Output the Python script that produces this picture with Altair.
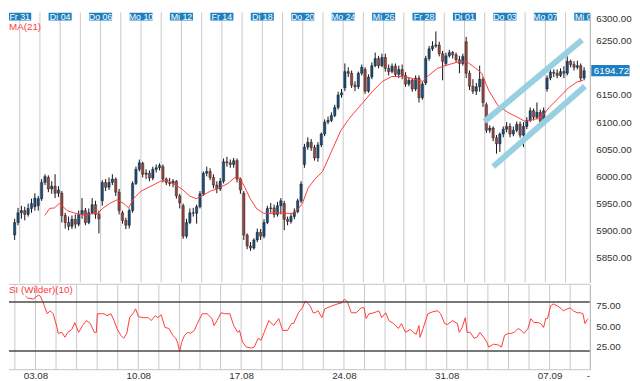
import altair as alt
import pandas as pd

FONT = "Liberation Sans"
UP, DOWN = "#1b4c7a", "#9a4540"
RED = "#ff3a3a"
BLUE = "#1f7fc0"
CHANNEL = "#98d0e1"
GRID = "#c9c9c9"

# ---------------- labels ----------------
top_day_labels = ["Fr 31", "Di 04", "Do 06", "Mo 10", "Mi 12", "Fr 14", "Di 18", "Do 20",
                  "Mo 24", "Mi 26", "Fr 28", "Di 01", "Do 03", "Mo 07", "Mi 09"]
top_day_pos = [-1, 1, 3, 5, 7, 9, 11, 13, 15, 17, 19, 21, 23, 25, 27]
bottom_labels = ["03.08", "10.08", "17.08", "24.08", "31.08", "07.09", "-"]
bottom_pos = [0, 5, 10, 15, 20, 25, 26.86]
grid_days = list(range(-1, 27))
price_ticks = [5850, 5900, 5950, 6000, 6050, 6100, 6150, 6250, 6300]
rsi_ticks = [25, 50, 75]
rsi_levels = [80, 20]

# ---------------- hourly-ish candles (6 per trading day) ----------------
opens = [
    5892, 5915,
    5933, 5937, 5930, 5941, 5944, 5946,
    5959, 5989, 5998, 5977, 5982, 5969,
    5969, 5928, 5915, 5908, 5921, 5912,
    5930, 5937, 5915, 5933, 5948, 5930,
    5955, 5989, 5980, 5989, 5995, 5971,
    5933, 5919, 5910, 5937, 5987, 6013,
    6024, 6004, 6006, 5997, 6013, 6016,
    6018, 5995, 5989, 5987, 5991, 5964,
    5946, 5890, 5915, 5933, 5932, 5944,
    5968, 6006, 6009, 5998, 5984, 5977,
    5991, 6027, 6025, 6022, 6029, 5995,
    5969, 5892, 5872, 5868, 5883, 5897,
    5890, 5915, 5941, 5942, 5930, 5946,
    5950, 5921, 5917, 5926, 5935, 5955,
    6022, 6054, 6063, 6053, 6034, 6058,
    6078, 6100, 6103, 6112, 6127, 6150,
    6163, 6193, 6190, 6168, 6165, 6190,
    6197, 6157, 6183, 6204, 6217, 6204,
    6219, 6199, 6193, 6203, 6188, 6197,
    6186, 6170, 6177, 6161, 6181, 6145,
    6172, 6217, 6235, 6240, 6242, 6226,
    6208, 6222, 6228, 6224, 6215, 6208,
    6248, 6190, 6166, 6157, 6165, 6179,
    6132, 6085, 6089, 6071, 6060, 6078,
    6087, 6092, 6078, 6085, 6096, 6076,
    6092, 6103, 6121, 6109, 6118, 6101,
    6161, 6181, 6192, 6190, 6186, 6193,
    6190, 6212, 6206, 6201, 6204, 6181,
]
highs = [
    5922, 5942,
    5946, 5944, 5950, 5959, 5969, 5964,
    5995, 6004, 6002, 5991, 6004, 5982,
    5973, 5933, 5926, 5928, 5930, 5937,
    5960, 5942, 5941, 5960, 5955, 5937,
    5993, 5995, 5998, 6004, 5998, 5977,
    5937, 5924, 5941, 5991, 6018, 6031,
    6027, 6013, 6011, 6018, 6022, 6024,
    6022, 5998, 5997, 5995, 5993, 5968,
    5950, 5922, 5941, 5942, 5948, 5973,
    6009, 6018, 6015, 6004, 5991, 5997,
    6033, 6036, 6031, 6034, 6033, 5998,
    5973, 5895, 5879, 5886, 5904, 5903,
    5921, 5946, 5951, 5948, 5953, 5960,
    5955, 5926, 5932, 5941, 5959, 5991,
    6060, 6072, 6069, 6058, 6063, 6081,
    6105, 6110, 6118, 6132, 6156, 6161,
    6208, 6201, 6195, 6175, 6193, 6206,
    6201, 6188, 6210, 6228, 6222, 6226,
    6226, 6206, 6208, 6208, 6204, 6206,
    6192, 6183, 6181, 6186, 6186, 6175,
    6222, 6240, 6249, 6267, 6248, 6231,
    6228, 6233, 6231, 6228, 6222, 6226,
    6257, 6195, 6179, 6172, 6204, 6183,
    6136, 6094, 6092, 6076, 6081, 6092,
    6100, 6098, 6092, 6101, 6101, 6100,
    6109, 6127, 6125, 6136, 6123, 6127,
    6186, 6197, 6197, 6197, 6199, 6203,
    6221, 6215, 6212, 6213, 6208, 6201,
]
lows = [
    5883, 5910,
    5922, 5919, 5926, 5933, 5937, 5937,
    5955, 5984, 5971, 5968, 5960, 5962,
    5915, 5904, 5901, 5903, 5904, 5908,
    5922, 5910, 5912, 5930, 5922, 5895,
    5946, 5973, 5975, 5984, 5964, 5930,
    5913, 5903, 5904, 5933, 5984, 6009,
    5998, 5995, 5991, 5993, 6007, 6011,
    5989, 5984, 5982, 5980, 5959, 5941,
    5885, 5886, 5912, 5926, 5913, 5941,
    5964, 6000, 5993, 5978, 5969, 5973,
    5987, 6018, 6016, 6016, 5989, 5968,
    5883, 5866, 5863, 5865, 5879, 5883,
    5886, 5912, 5933, 5924, 5926, 5930,
    5901, 5910, 5913, 5921, 5932, 5951,
    6016, 6049, 6047, 6029, 6027, 6054,
    6074, 6096, 6100, 6109, 6123, 6145,
    6157, 6183, 6163, 6157, 6161, 6186,
    6152, 6154, 6179, 6201, 6199, 6201,
    6193, 6186, 6190, 6183, 6181, 6179,
    6165, 6166, 6156, 6157, 6136, 6141,
    6168, 6213, 6231, 6237, 6221, 6177,
    6203, 6219, 6217, 6210, 6190, 6204,
    6181, 6159, 6152, 6150, 6156, 6128,
    6080, 6080, 6065, 6042, 6045, 6072,
    6081, 6072, 6074, 6081, 6071, 6054,
    6087, 6100, 6103, 6105, 6098, 6098,
    6156, 6177, 6183, 6181, 6183, 6181,
    6186, 6201, 6195, 6197, 6175, 6177,
]
closes = [
    5915, 5933,
    5937, 5930, 5941, 5950, 5960, 5959,
    5989, 6000, 5977, 5982, 5969, 5975,
    5928, 5915, 5908, 5921, 5912, 5930,
    5937, 5915, 5933, 5948, 5930, 5922,
    5989, 5980, 5989, 5995, 5971, 5937,
    5919, 5910, 5937, 5987, 6013, 6025,
    6004, 6006, 5997, 6013, 6016, 6020,
    5995, 5989, 5987, 5991, 5964, 5951,
    5890, 5915, 5933, 5932, 5944, 5968,
    6006, 6009, 5998, 5984, 5977, 5991,
    6027, 6025, 6022, 6029, 5995, 5975,
    5892, 5872, 5868, 5883, 5897, 5890,
    5915, 5941, 5942, 5930, 5946, 5955,
    5921, 5917, 5926, 5935, 5955, 5986,
    6054, 6063, 6053, 6034, 6058, 6078,
    6100, 6103, 6112, 6127, 6150, 6154,
    6193, 6190, 6168, 6165, 6190, 6201,
    6157, 6183, 6204, 6217, 6204, 6219,
    6199, 6193, 6203, 6188, 6197, 6186,
    6170, 6177, 6161, 6181, 6145, 6170,
    6217, 6235, 6240, 6242, 6226, 6212,
    6222, 6228, 6224, 6215, 6208, 6221,
    6190, 6166, 6157, 6165, 6179, 6136,
    6085, 6089, 6071, 6060, 6078, 6087,
    6092, 6078, 6085, 6096, 6076, 6092,
    6103, 6121, 6109, 6118, 6101, 6121,
    6181, 6192, 6190, 6186, 6193, 6190,
    6212, 6206, 6201, 6204, 6181, 6194.72,
]

# ---------------- MA(21) ----------------
ma_day = [0.24, 0.48, 0.72, 0.95, 1.10, 1.34, 1.67, 2.00, 2.29, 2.62, 2.86, 3.10, 3.44, 3.82,
          4.15, 4.39, 4.63, 5.01, 5.49, 5.96, 6.30, 6.58, 7.01, 7.40, 7.73, 8.02, 8.44, 8.83,
          9.30, 9.64, 9.88, 10.11, 10.40, 10.73, 11.07, 11.55, 11.83, 12.17, 12.50, 12.79,
          12.98, 13.26, 13.60, 13.98, 14.41, 14.89, 15.27, 15.51, 15.98, 16.46, 16.94, 17.41,
          17.89, 18.37, 18.70, 18.94, 19.23, 19.66, 20.04, 20.61, 21.09, 21.23, 21.56, 21.85,
          22.19, 22.66, 23.14, 23.62, 24.00, 24.43, 24.81, 25.19, 25.67, 26.14, 26.57, 26.86]
ma_val = [5928, 5941, 5942, 5950, 5946, 5937, 5933, 5930, 5928, 5932, 5932, 5941, 5950, 5957,
          5950, 5942, 5959, 5973, 5982, 5991, 5993, 5987, 5977, 5964, 5959, 5964, 5973, 5978,
          5987, 5998, 5997, 5982, 5959, 5940, 5932, 5932, 5933, 5932, 5932, 5941,
          5950, 5978, 5995, 6009, 6045, 6085, 6105, 6116, 6136, 6157, 6175, 6184,
          6184, 6181, 6177, 6175, 6186, 6199, 6204, 6210, 6212, 6208, 6199, 6190,
          6159, 6130, 6118, 6109, 6101, 6105, 6109, 6127, 6145, 6163, 6174, 6177]

# ---------------- RSI (Wilder)(10) ----------------
rsi_day = [-0.48, -0.38, -0.10, 0.14, 0.24, 0.38, 0.57, 0.72, 0.86, 1.05, 1.10, 1.29, 1.43, 1.57,
           1.77, 1.91, 2.10, 2.29, 2.48, 2.67, 2.86, 2.96, 3.01, 3.20, 3.34, 3.48, 3.67, 3.82,
           3.96, 4.15, 4.29, 4.44, 4.58, 4.77, 4.87, 5.01, 5.25, 5.49, 5.63, 5.82, 5.96, 6.11,
           6.30, 6.49, 6.68, 6.82, 6.92, 7.01, 7.11, 7.25, 7.40, 7.54, 7.73, 7.87, 8.11, 8.35,
           8.59, 8.68, 8.83, 9.02, 9.21, 9.45, 9.64, 9.83, 9.92, 10.07, 10.26, 10.50, 10.64,
           10.83, 10.97, 11.12, 11.35, 11.59, 11.83, 12.02, 12.26, 12.45, 12.55, 12.79, 12.98,
           13.12, 13.36, 13.50, 13.60, 13.74, 13.93, 14.07, 14.41, 14.69, 14.89, 15.03, 15.17,
           15.36, 15.60, 15.84, 15.98, 16.08, 16.22, 16.46, 16.70, 16.84, 17.03, 17.18, 17.41,
           17.65, 17.80, 17.99, 18.23, 18.37, 18.51, 18.65, 18.70, 18.85, 19.08, 19.32, 19.56,
           19.70, 19.90, 20.04, 20.28, 20.52, 20.61, 20.75, 20.90, 20.99, 21.14, 21.33, 21.47,
           21.61, 21.80, 21.95, 22.04, 22.28, 22.52, 22.66, 22.81, 23.00, 23.14, 23.28, 23.47,
           23.62, 23.76, 23.95, 24.09, 24.24, 24.43, 24.57, 24.71, 24.81, 24.90, 25.05, 25.19,
           25.38, 25.52, 25.67, 25.86, 26.00, 26.15, 26.34, 26.48, 26.62, 26.72, 26.86]
rsi_val = [87.2, 84.8, 83.6, 88.4, 87.2, 78.8, 65.6, 69.2, 65.6, 48.8, 41.6, 42.8, 36.8, 42.8,
           46.4, 54.8, 42.8, 51.2, 57.2, 53.6, 42.8, 42.8, 65.6, 65.6, 65.6, 63.2, 65.6, 57.2,
           47.6, 39.2, 35.6, 41.6, 60.8, 66.8, 71.6, 62.0, 60.8, 60.8, 57.2, 63.2, 60.8, 64.4,
           48.8, 47.6, 39.2, 35.6, 29.6, 18.8, 30.8, 39.2, 42.8, 41.6, 45.2, 53.6, 65.6, 65.6,
           59.6, 51.2, 57.2, 66.8, 65.6, 65.6, 51.2, 42.8, 45.2, 30.8, 24.8, 23.6, 24.8,
           35.6, 33.2, 42.8, 57.2, 51.2, 59.6, 45.2, 45.2, 53.6, 53.6, 66.8, 72.8,
           81.2, 75.2, 66.8, 66.8, 69.2, 60.8, 71.6, 75.2, 77.6, 78.8, 83.6, 80.0,
           66.8, 66.8, 72.8, 72.8, 59.6, 65.6, 66.8, 69.2, 60.8, 66.8, 57.2, 53.6,
           47.6, 53.6, 42.8, 46.4, 42.8, 40.4, 51.2, 36.8, 47.6, 65.6, 68.0, 69.2,
           65.6, 53.6, 52.4, 57.2, 53.6, 42.8, 48.8, 60.8, 42.8, 42.8, 35.6, 36.8,
           42.8, 36.8, 30.8, 24.8, 28.4, 27.2, 24.8, 39.2, 41.6, 41.6, 42.8, 47.6,
           45.2, 41.6, 47.6, 59.6, 54.8, 54.8, 53.6, 48.8, 59.6, 59.6, 75.2, 77.6,
           75.2, 72.8, 69.2, 71.6, 72.8, 69.2, 66.8, 66.8, 65.6, 53.6, 59.6]

# ---------------- hand-drawn trend channel ----------------
channel_id = ["upper", "upper", "lower", "lower"]
channel_day = [21.99, 26.81, 22.42, 26.96]
channel_price = [6101, 6251, 6018, 6166]

# ---------------- frames ----------------
X_DOMAIN = [-1.288, 26.956]
PRICE_DOMAIN = [5804.9, 6301.8]
RSI_DOMAIN = [-2.8, 101.6]
W, H_PRICE, H_RSI = 592, 275, 87

PER_DAY = 6
candle_x = [-2 + (i + 0.5) / PER_DAY for i in (4, 5)] + \
           [d + (i + 0.5) / PER_DAY for d in range(-1, 27) for i in range(PER_DAY)]
cdf = pd.DataFrame({"d": candle_x, "open": opens, "high": highs, "low": lows, "close": closes})
cdf["btop"] = cdf[["open", "close"]].max(axis=1)
cdf["bbot"] = cdf[["open", "close"]].min(axis=1)

ma_df = pd.DataFrame({"d": ma_day, "v": ma_val})
rsi_df = pd.DataFrame({"d": rsi_day, "v": rsi_val})
ch_df = pd.DataFrame({"id": channel_id, "d": channel_day, "v": channel_price})
top_df = pd.DataFrame({"d": top_day_pos, "label": top_day_labels})
top_df["d1"] = top_df["d"] - 0.57
top_df["d2"] = top_df["d"] + 0.57
last_df = pd.DataFrame({"v": [closes[-1]], "t": [f"{closes[-1]:.2f}"]})
grid_df = pd.DataFrame({"d": grid_days})

XS = alt.Scale(domain=X_DOMAIN, nice=False, zero=False)
YP = alt.Scale(domain=PRICE_DOMAIN, nice=False, zero=False)
YR = alt.Scale(domain=RSI_DOMAIN, nice=False, zero=False)

X_AX_P = alt.Axis(values=grid_days, grid=False, labels=False, ticks=False, domain=False, title=None)
Y_AX_P = alt.Axis(orient="right", values=price_ticks, format=".2f", title=None, grid=False,
                  ticks=False, domainColor="#a8a8a8", labelFontSize=10, labelColor="#333",
                  labelFont=FONT, labelPadding=6, labelFlush=4)

lab_expr = "".join(f"datum.value === {p} ? '{l}' : " for p, l in zip(bottom_pos, bottom_labels)) + "''"
X_AX_R = alt.Axis(values=bottom_pos, grid=False,
                  labelExpr=lab_expr, labelOverlap=False, ticks=False, domain=False, title=None,
                  labelFontSize=10, labelColor="#333", labelFont=FONT, labelPadding=1)
Y_AX_R = alt.Axis(orient="right", values=rsi_ticks, format=".2f", title=None, grid=False,
                  ticks=False, domainColor="#a8a8a8", labelFontSize=10, labelColor="#333",
                  labelFont=FONT, labelPadding=6)


def xp(field="d"):
    return alt.X(f"{field}:Q", scale=XS, axis=X_AX_P)


def yp(field):
    return alt.Y(f"{field}:Q", scale=YP, axis=Y_AX_P)


grid_p = alt.Chart(grid_df).mark_rule(color=GRID, strokeWidth=1).encode(x=xp())
base_c = alt.Chart(cdf)
wicks = base_c.mark_rule(color="#111111", strokeWidth=1, clip=True).encode(
    x=xp(), y=yp("low"), y2="high:Q")
bodies = base_c.mark_bar(size=2.4, stroke="#111111", strokeWidth=0.4, clip=True).encode(
    x=xp(), y=yp("bbot"), y2="btop:Q",
    color=alt.condition("datum.close >= datum.open", alt.value(UP), alt.value(DOWN)))
ma_line = alt.Chart(ma_df).mark_line(color=RED, strokeWidth=1, clip=True).encode(
    x=xp(), y=yp("v"))
channel = alt.Chart(ch_df).mark_line(color=CHANNEL, strokeWidth=6, strokeCap="butt", clip=True).encode(
    x=xp(), y=yp("v"), detail="id:N")
top_boxes = alt.Chart(top_df).mark_rect(color=BLUE, clip=True).encode(
    x=xp("d1"), x2="d2:Q", y=alt.value(0), y2=alt.value(8))
top_text = alt.Chart(top_df).mark_text(color="white", fontSize=9, font=FONT, baseline="middle",
                                       clip=True).encode(
    x=xp(), y=alt.value(4.5), text="label:N")
ma_label = alt.Chart(pd.DataFrame({"t": ["MA(21)"]})).mark_text(
    color=RED, fontSize=10, font=FONT, align="left", baseline="top").encode(
    x=alt.value(0), y=alt.value(10), text="t:N")
last_box = alt.Chart(last_df).mark_point(
    shape="M-1,-0.29L1,-0.29L1,0.29L-1,0.29Z", filled=True, opacity=1, color=BLUE, size=1521).encode(
    x=alt.value(613), y=yp("v"))
last_text = alt.Chart(last_df).mark_text(color="white", fontSize=10, font=FONT, align="left",
                                         baseline="middle").encode(
    x=alt.value(596), y=yp("v"), text="t:N")

price_panel = alt.layer(grid_p, wicks, bodies, ma_line, channel, top_boxes, top_text, ma_label,
                        last_box, last_text).properties(width=W, height=H_PRICE)


def xr(field="d"):
    return alt.X(f"{field}:Q", scale=XS, axis=X_AX_R)


def yr(field):
    return alt.Y(f"{field}:Q", scale=YR, axis=Y_AX_R)


grid_r = alt.Chart(grid_df).mark_rule(color=GRID, strokeWidth=1).encode(x=xr())
rsi_line = alt.Chart(rsi_df).mark_line(color=RED, strokeWidth=1, clip=True).encode(
    x=xr(), y=yr("v"))
levels = alt.Chart(pd.DataFrame({"v": rsi_levels})).mark_rule(color="#4a4a4a", strokeWidth=1.5).encode(
    y=yr("v"))
frame = alt.Chart(pd.DataFrame({"v": RSI_DOMAIN})).mark_rule(color="#c4c4c4", strokeWidth=1).encode(
    y=yr("v"))
rsi_label = alt.Chart(pd.DataFrame({"t": ["SI (Wilder)(10)"]})).mark_text(
    color=RED, fontSize=10, font=FONT, align="left", baseline="top").encode(
    x=alt.value(0), y=alt.value(1), text="t:N")

rsi_panel = alt.layer(grid_r, frame, rsi_line, levels, rsi_label).properties(width=W, height=H_RSI)

chart = alt.vconcat(price_panel, rsi_panel, spacing=0).properties(
    padding=0, background="white"
).configure_view(stroke=None).configure_concat(spacing=0)

chart.save("out.html", embed_options={"renderer": "svg", "actions": False})
